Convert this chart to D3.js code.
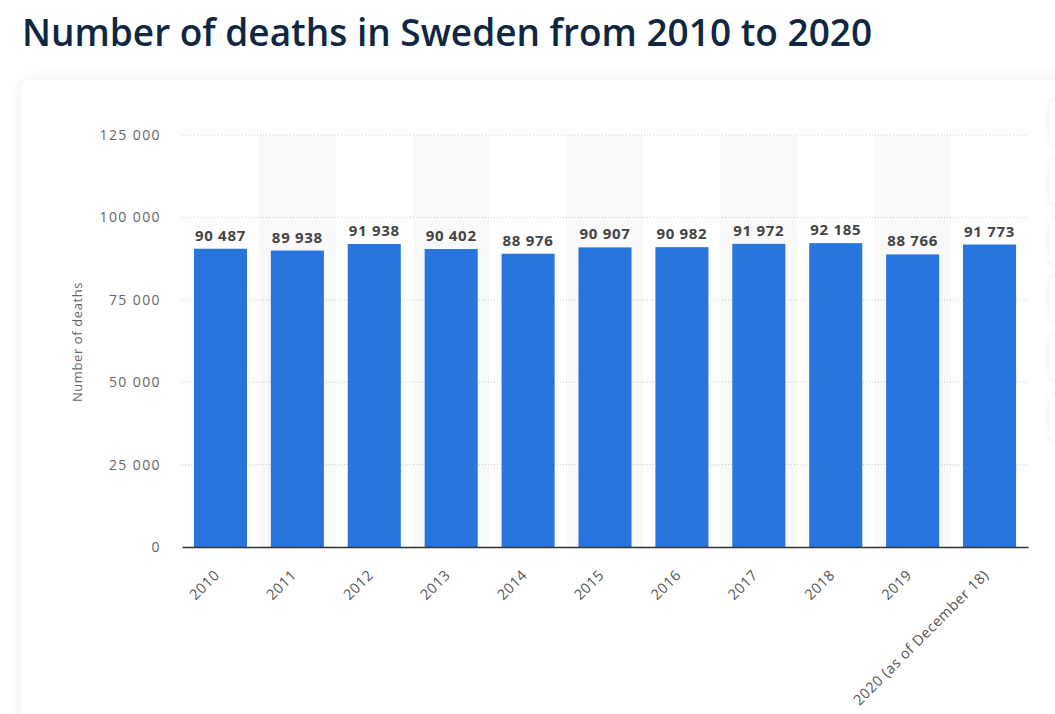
<!DOCTYPE html>
<html><head><meta charset="utf-8">
<script src="https://cdn.jsdelivr.net/npm/d3@7"></script>
<style>
html,body{margin:0;padding:0;background:#fff;width:1055px;height:714px;overflow:hidden;font-family:"Open Sans",sans-serif;}
#title{position:absolute;left:22px;top:6px;font-size:37px;font-weight:600;color:#0f2741;white-space:nowrap;}
#card{position:absolute;left:21px;top:80px;width:1100px;height:700px;background:#fff;border-radius:8px;box-shadow:0 0 18px rgba(0,0,0,0.07);}
.side{position:absolute;left:1049px;width:40px;height:44px;background:#fff;border-radius:6px;box-shadow:0 0 8px rgba(0,0,0,0.08);}
svg{position:absolute;left:0;top:0;}
</style></head><body>
<div id="title">Number of deaths in Sweden from 2010 to 2020</div>
<div id="card"></div>
<div class="side" style="top:100px"></div>
<div class="side" style="top:160px"></div>
<div class="side" style="top:219px"></div>
<div class="side" style="top:276px"></div>
<div class="side" style="top:335px"></div>
<div class="side" style="top:395px"></div>
<svg id="chart" width="1055" height="714"></svg>
<script>
const categories = ["2010","2011","2012","2013","2014","2015","2016","2017","2018","2019","2020 (as of December 18)"];
const deaths = [90487, 89938, 91938, 90402, 88976, 90907, 90982, 91972, 92185, 88766, 91773];
const yTicks = [0, 25000, 50000, 75000, 100000, 125000];

const svg = d3.select("#chart");
const pLeft = 182, pRight = 1028, pTop = 135, pBottom = 547;
const x = d3.scaleBand().domain(categories).range([pLeft, pRight]).paddingInner(0.31).paddingOuter(0.155);
const xb = d3.scaleBand().domain(categories).range([pLeft, pRight]);
const y = d3.scaleLinear().domain([0, 125000]).range([pBottom, pTop]);
const fmt = v => d3.format(",")(v).replace(/,/g, " ");

// alternating bands
svg.append("g").selectAll("rect").data(categories.filter((d,i)=>i%2===1)).join("rect")
  .attr("x", d=>xb(d)).attr("width", xb.bandwidth())
  .attr("y", pTop).attr("height", pBottom-pTop).attr("fill", "#f9f9f9");

// gridlines
svg.append("g").selectAll("line").data(yTicks.filter(d=>d>0)).join("line")
  .attr("x1", pLeft).attr("x2", pRight).attr("y1", d=>y(d)).attr("y2", d=>y(d))
  .attr("stroke", "#c8c8c8").attr("stroke-width", 1).attr("stroke-dasharray", "1,2");

// y axis labels
const yAxis = d3.axisLeft(y).tickValues(yTicks).tickFormat(fmt).tickSize(0).tickPadding(0);
const gy = svg.append("g").attr("transform", `translate(${pLeft-21},0)`).call(yAxis);
gy.select(".domain").remove();
gy.selectAll("text").attr("font-family","Open Sans, sans-serif").attr("font-size","14px")
  .attr("letter-spacing","1.4px").attr("fill","#666").attr("dy","0.32em");

// y title
svg.append("text").attr("transform", `translate(82,${(pTop+pBottom)/2 + 1}) rotate(-90)`)
  .attr("text-anchor","middle").attr("font-family","Open Sans, sans-serif").attr("font-size","13px")
  .attr("letter-spacing","0.6px").attr("fill","#666")
  .text("Number of deaths");

// bars
svg.append("g").selectAll("rect").data(categories).join("rect")
  .attr("x", d=>x(d)).attr("width", x.bandwidth())
  .attr("y", (d,i)=>y(deaths[i])).attr("height", (d,i)=>pBottom - y(deaths[i]))
  .attr("fill", "#2876dd");

// value labels
svg.append("g").selectAll("text").data(categories).join("text")
  .attr("x", d=>x(d)+x.bandwidth()/2).attr("y", (d,i)=>y(deaths[i]) - 8)
  .attr("text-anchor","middle").attr("font-family","Open Sans, sans-serif").attr("font-size","15px")
  .attr("letter-spacing","0.7px").attr("font-weight","700").attr("fill","#444")
  .text((d,i)=>fmt(deaths[i]));

// x axis
const xAxis = d3.axisBottom(xb).tickSize(0).tickPadding(0);
const gx = svg.append("g").attr("transform", `translate(0,${pBottom})`).call(xAxis);
gx.select(".domain").attr("stroke","#333").attr("stroke-width",1.5);
gx.selectAll("text").attr("font-family","Open Sans, sans-serif").attr("font-size","14.5px")
  .attr("letter-spacing","0.5px").attr("fill","#555")
  .attr("text-anchor","end").attr("dy","0")
  .attr("transform","translate(0,29) rotate(-45)");
</script>
</body></html>
